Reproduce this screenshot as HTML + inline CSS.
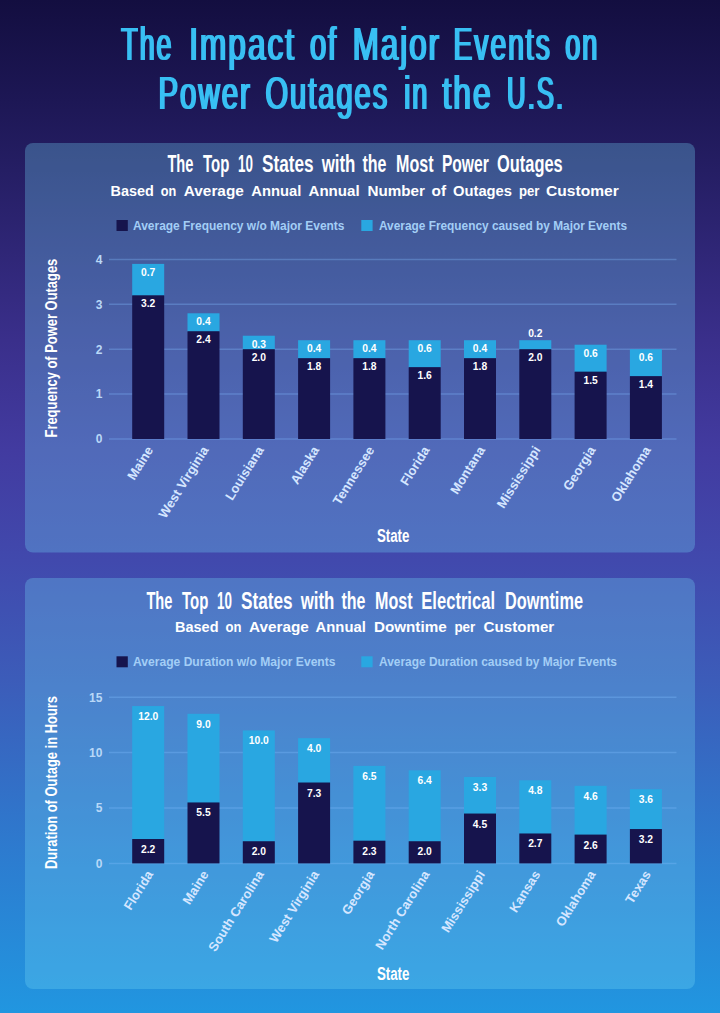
<!DOCTYPE html>
<html><head><meta charset="utf-8"><title>The Impact of Major Events on Power Outages in the U.S.</title>
<style>html,body{margin:0;padding:0;background:#1a1548}svg{display:block}text{font-family:"Liberation Sans",sans-serif}</style>
</head><body>
<svg width="720" height="1013" viewBox="0 0 720 1013">
<defs><filter id="fat" x="-5%" y="-20%" width="110%" height="140%"><feMorphology operator="dilate" radius="1 0"/></filter><linearGradient id="bg" x1="0" y1="0" x2="0" y2="1"><stop offset="0" stop-color="#130e40"/><stop offset="0.1" stop-color="#1d1755"/><stop offset="0.168" stop-color="#251e64"/><stop offset="0.336" stop-color="#3a2f8b"/><stop offset="0.444" stop-color="#423ba0"/><stop offset="0.553" stop-color="#4149ad"/><stop offset="0.671" stop-color="#3c5cb9"/><stop offset="0.839" stop-color="#2d7bcf"/><stop offset="1" stop-color="#2196e0"/></linearGradient></defs>
<rect width="720" height="1013" fill="url(#bg)"/>
<g filter="url(#fat)" fill="#38bff3" font-size="46">
<text transform="translate(121.30 59.50) scale(0.5829 1)" letter-spacing="3.43">The</text>
<text transform="translate(189.30 59.50) scale(0.6860 1)" letter-spacing="2.92">Impact</text>
<text transform="translate(309.90 59.50) scale(0.6334 1)" letter-spacing="3.16">of</text>
<text transform="translate(352.70 59.50) scale(0.6807 1)" letter-spacing="2.94">Major</text>
<text transform="translate(453.50 59.50) scale(0.6137 1)" letter-spacing="3.26">Events</text>
<text transform="translate(565.20 59.50) scale(0.5883 1)" letter-spacing="3.40">on</text>
</g>
<g filter="url(#fat)" fill="#38bff3" font-size="46">
<text transform="translate(158.50 109.30) scale(0.6389 1)" letter-spacing="3.13">Power</text>
<text transform="translate(265.40 109.30) scale(0.6320 1)" letter-spacing="3.16">Outages</text>
<text transform="translate(404.20 109.30) scale(0.5893 1)" letter-spacing="3.39">in</text>
<text transform="translate(442.50 109.30) scale(0.6896 1)" letter-spacing="2.90">the</text>
<text transform="translate(507.10 109.30) scale(0.5600 1)" letter-spacing="3.57">U.S.</text>
</g>
<rect x="25.00" y="143.00" width="670.00" height="409.50" fill="rgba(117,215,245,0.3)" rx="8" ry="8"/>
<text x="167.40" y="172.20" font-size="23.6" fill="#fff" font-weight="bold" textLength="26.00" lengthAdjust="spacingAndGlyphs" stroke="#fff" stroke-width="0" stroke-linejoin="round">The</text>
<text x="203.00" y="172.20" font-size="23.6" fill="#fff" font-weight="bold" textLength="26.30" lengthAdjust="spacingAndGlyphs" stroke="#fff" stroke-width="0" stroke-linejoin="round">Top</text>
<text x="238.00" y="172.20" font-size="23.6" fill="#fff" font-weight="bold" textLength="14.90" lengthAdjust="spacingAndGlyphs" stroke="#fff" stroke-width="0" stroke-linejoin="round">10</text>
<text x="262.00" y="172.20" font-size="23.6" fill="#fff" font-weight="bold" textLength="51.60" lengthAdjust="spacingAndGlyphs" stroke="#fff" stroke-width="0" stroke-linejoin="round">States</text>
<text x="321.70" y="172.20" font-size="23.6" fill="#fff" font-weight="bold" textLength="33.70" lengthAdjust="spacingAndGlyphs" stroke="#fff" stroke-width="0" stroke-linejoin="round">with</text>
<text x="362.50" y="172.20" font-size="23.6" fill="#fff" font-weight="bold" textLength="24.00" lengthAdjust="spacingAndGlyphs" stroke="#fff" stroke-width="0" stroke-linejoin="round">the</text>
<text x="396.00" y="172.20" font-size="23.6" fill="#fff" font-weight="bold" textLength="37.50" lengthAdjust="spacingAndGlyphs" stroke="#fff" stroke-width="0" stroke-linejoin="round">Most</text>
<text x="441.90" y="172.20" font-size="23.6" fill="#fff" font-weight="bold" textLength="46.90" lengthAdjust="spacingAndGlyphs" stroke="#fff" stroke-width="0" stroke-linejoin="round">Power</text>
<text x="497.10" y="172.20" font-size="23.6" fill="#fff" font-weight="bold" textLength="65.60" lengthAdjust="spacingAndGlyphs" stroke="#fff" stroke-width="0" stroke-linejoin="round">Outages</text>
<text x="110.50" y="196.20" font-size="14.6" fill="#fff" font-weight="bold" textLength="43.30" lengthAdjust="spacingAndGlyphs">Based</text>
<text x="160.80" y="196.20" font-size="14.6" fill="#fff" font-weight="bold" textLength="15.50" lengthAdjust="spacingAndGlyphs">on</text>
<text x="183.80" y="196.20" font-size="14.6" fill="#fff" font-weight="bold" textLength="60.00" lengthAdjust="spacingAndGlyphs">Average</text>
<text x="251.30" y="196.20" font-size="14.6" fill="#fff" font-weight="bold" textLength="50.00" lengthAdjust="spacingAndGlyphs">Annual</text>
<text x="308.50" y="196.20" font-size="14.6" fill="#fff" font-weight="bold" textLength="51.10" lengthAdjust="spacingAndGlyphs">Annual</text>
<text x="367.50" y="196.20" font-size="14.6" fill="#fff" font-weight="bold" textLength="57.50" lengthAdjust="spacingAndGlyphs">Number</text>
<text x="431.50" y="196.20" font-size="14.6" fill="#fff" font-weight="bold" textLength="14.50" lengthAdjust="spacingAndGlyphs">of</text>
<text x="453.00" y="196.20" font-size="14.6" fill="#fff" font-weight="bold" textLength="59.00" lengthAdjust="spacingAndGlyphs">Outages</text>
<text x="519.00" y="196.20" font-size="14.6" fill="#fff" font-weight="bold" textLength="20.50" lengthAdjust="spacingAndGlyphs">per</text>
<text x="546.00" y="196.20" font-size="14.6" fill="#fff" font-weight="bold" textLength="72.80" lengthAdjust="spacingAndGlyphs">Customer</text>
<rect x="116.50" y="220.00" width="11.30" height="11.00" fill="#16144d" />
<text x="133.00" y="230.00" font-size="12" fill="#a3cef6" font-weight="bold" textLength="211.50" lengthAdjust="spacingAndGlyphs">Average Frequency w/o Major Events</text>
<rect x="361.30" y="220.00" width="11.30" height="11.00" fill="#29a7e1" />
<text x="379.00" y="230.00" font-size="12" fill="#a3cef6" font-weight="bold" textLength="248.00" lengthAdjust="spacingAndGlyphs">Average Frequency caused by Major Events</text>
<text x="56.9" y="437.50" font-size="16" fill="#fff" font-weight="bold" textLength="178.80" lengthAdjust="spacingAndGlyphs" transform="rotate(-90 56.9 437.50)" stroke="#fff" stroke-width="0">Frequency of Power Outages</text>
<line x1="109" x2="676.5" y1="439.00" y2="439.00" stroke="rgba(130,190,255,0.32)" stroke-width="1.5"/>
<text x="102.40" y="443.30" font-size="12" fill="#b9d8f7" font-weight="bold" text-anchor="end">0</text>
<line x1="109" x2="676.5" y1="394.10" y2="394.10" stroke="rgba(130,190,255,0.32)" stroke-width="1.5"/>
<text x="102.40" y="398.40" font-size="12" fill="#b9d8f7" font-weight="bold" text-anchor="end">1</text>
<line x1="109" x2="676.5" y1="349.20" y2="349.20" stroke="rgba(130,190,255,0.32)" stroke-width="1.5"/>
<text x="102.40" y="353.50" font-size="12" fill="#b9d8f7" font-weight="bold" text-anchor="end">2</text>
<line x1="109" x2="676.5" y1="304.30" y2="304.30" stroke="rgba(130,190,255,0.32)" stroke-width="1.5"/>
<text x="102.40" y="308.60" font-size="12" fill="#b9d8f7" font-weight="bold" text-anchor="end">3</text>
<line x1="109" x2="676.5" y1="259.40" y2="259.40" stroke="rgba(130,190,255,0.32)" stroke-width="1.5"/>
<text x="102.40" y="263.70" font-size="12" fill="#b9d8f7" font-weight="bold" text-anchor="end">4</text>
<rect x="132.20" y="263.89" width="32.00" height="31.93" fill="#29a7e1" />
<rect x="132.20" y="295.32" width="32.00" height="143.68" fill="#16144d" />
<text x="148.20" y="307.32" font-size="10.3" fill="#fff" font-weight="bold" text-anchor="middle">3.2</text>
<text x="148.20" y="275.89" font-size="10.3" fill="#fff" font-weight="bold" text-anchor="middle">0.7</text>
<rect x="187.50" y="313.28" width="32.00" height="18.46" fill="#29a7e1" />
<rect x="187.50" y="331.24" width="32.00" height="107.76" fill="#16144d" />
<text x="203.50" y="343.24" font-size="10.3" fill="#fff" font-weight="bold" text-anchor="middle">2.4</text>
<text x="203.50" y="325.28" font-size="10.3" fill="#fff" font-weight="bold" text-anchor="middle">0.4</text>
<rect x="242.80" y="335.73" width="32.00" height="13.97" fill="#29a7e1" />
<rect x="242.80" y="349.20" width="32.00" height="89.80" fill="#16144d" />
<text x="258.80" y="361.20" font-size="10.3" fill="#fff" font-weight="bold" text-anchor="middle">2.0</text>
<text x="258.80" y="347.73" font-size="10.3" fill="#fff" font-weight="bold" text-anchor="middle">0.3</text>
<rect x="298.10" y="340.22" width="32.00" height="18.46" fill="#29a7e1" />
<rect x="298.10" y="358.18" width="32.00" height="80.82" fill="#16144d" />
<text x="314.10" y="370.18" font-size="10.3" fill="#fff" font-weight="bold" text-anchor="middle">1.8</text>
<text x="314.10" y="352.22" font-size="10.3" fill="#fff" font-weight="bold" text-anchor="middle">0.4</text>
<rect x="353.40" y="340.22" width="32.00" height="18.46" fill="#29a7e1" />
<rect x="353.40" y="358.18" width="32.00" height="80.82" fill="#16144d" />
<text x="369.40" y="370.18" font-size="10.3" fill="#fff" font-weight="bold" text-anchor="middle">1.8</text>
<text x="369.40" y="352.22" font-size="10.3" fill="#fff" font-weight="bold" text-anchor="middle">0.4</text>
<rect x="408.70" y="340.22" width="32.00" height="27.44" fill="#29a7e1" />
<rect x="408.70" y="367.16" width="32.00" height="71.84" fill="#16144d" />
<text x="424.70" y="379.16" font-size="10.3" fill="#fff" font-weight="bold" text-anchor="middle">1.6</text>
<text x="424.70" y="352.22" font-size="10.3" fill="#fff" font-weight="bold" text-anchor="middle">0.6</text>
<rect x="464.00" y="340.22" width="32.00" height="18.46" fill="#29a7e1" />
<rect x="464.00" y="358.18" width="32.00" height="80.82" fill="#16144d" />
<text x="480.00" y="370.18" font-size="10.3" fill="#fff" font-weight="bold" text-anchor="middle">1.8</text>
<text x="480.00" y="352.22" font-size="10.3" fill="#fff" font-weight="bold" text-anchor="middle">0.4</text>
<rect x="519.30" y="340.22" width="32.00" height="9.48" fill="#29a7e1" />
<rect x="519.30" y="349.20" width="32.00" height="89.80" fill="#16144d" />
<text x="535.30" y="361.20" font-size="10.3" fill="#fff" font-weight="bold" text-anchor="middle">2.0</text>
<text x="535.30" y="337.02" font-size="10.3" fill="#fff" font-weight="bold" text-anchor="middle">0.2</text>
<rect x="574.60" y="344.71" width="32.00" height="27.44" fill="#29a7e1" />
<rect x="574.60" y="371.65" width="32.00" height="67.35" fill="#16144d" />
<text x="590.60" y="383.65" font-size="10.3" fill="#fff" font-weight="bold" text-anchor="middle">1.5</text>
<text x="590.60" y="356.71" font-size="10.3" fill="#fff" font-weight="bold" text-anchor="middle">0.6</text>
<rect x="629.90" y="349.20" width="32.00" height="27.44" fill="#29a7e1" />
<rect x="629.90" y="376.14" width="32.00" height="62.86" fill="#16144d" />
<text x="645.90" y="388.14" font-size="10.3" fill="#fff" font-weight="bold" text-anchor="middle">1.4</text>
<text x="645.90" y="361.20" font-size="10.3" fill="#fff" font-weight="bold" text-anchor="middle">0.6</text>
<text x="153.70" y="449.80" font-size="13" fill="#d5e6ff" font-weight="bold" text-anchor="end" transform="rotate(-58 153.70 449.80)">Maine</text>
<text x="209.00" y="449.80" font-size="13" fill="#d5e6ff" font-weight="bold" text-anchor="end" transform="rotate(-58 209.00 449.80)">West Virginia</text>
<text x="264.30" y="449.80" font-size="13" fill="#d5e6ff" font-weight="bold" text-anchor="end" transform="rotate(-58 264.30 449.80)">Louisiana</text>
<text x="319.60" y="449.80" font-size="13" fill="#d5e6ff" font-weight="bold" text-anchor="end" transform="rotate(-58 319.60 449.80)">Alaska</text>
<text x="374.90" y="449.80" font-size="13" fill="#d5e6ff" font-weight="bold" text-anchor="end" transform="rotate(-58 374.90 449.80)">Tennessee</text>
<text x="430.20" y="449.80" font-size="13" fill="#d5e6ff" font-weight="bold" text-anchor="end" transform="rotate(-58 430.20 449.80)">Florida</text>
<text x="485.50" y="449.80" font-size="13" fill="#d5e6ff" font-weight="bold" text-anchor="end" transform="rotate(-58 485.50 449.80)">Montana</text>
<text x="540.80" y="449.80" font-size="13" fill="#d5e6ff" font-weight="bold" text-anchor="end" transform="rotate(-58 540.80 449.80)">Mississippi</text>
<text x="596.10" y="449.80" font-size="13" fill="#d5e6ff" font-weight="bold" text-anchor="end" transform="rotate(-58 596.10 449.80)">Georgia</text>
<text x="651.40" y="449.80" font-size="13" fill="#d5e6ff" font-weight="bold" text-anchor="end" transform="rotate(-58 651.40 449.80)">Oklahoma</text>
<text x="376.90" y="541.80" font-size="17.5" fill="#fff" font-weight="bold" textLength="32.50" lengthAdjust="spacingAndGlyphs" stroke="#fff" stroke-width="0" stroke-linejoin="round">State</text>
<rect x="25.00" y="578.00" width="670.00" height="411.00" fill="rgba(117,215,245,0.3)" rx="8" ry="8"/>
<text x="146.40" y="608.50" font-size="23.6" fill="#fff" font-weight="bold" textLength="26.00" lengthAdjust="spacingAndGlyphs" stroke="#fff" stroke-width="0" stroke-linejoin="round">The</text>
<text x="182.00" y="608.50" font-size="23.6" fill="#fff" font-weight="bold" textLength="26.30" lengthAdjust="spacingAndGlyphs" stroke="#fff" stroke-width="0" stroke-linejoin="round">Top</text>
<text x="217.00" y="608.50" font-size="23.6" fill="#fff" font-weight="bold" textLength="14.90" lengthAdjust="spacingAndGlyphs" stroke="#fff" stroke-width="0" stroke-linejoin="round">10</text>
<text x="241.00" y="608.50" font-size="23.6" fill="#fff" font-weight="bold" textLength="51.60" lengthAdjust="spacingAndGlyphs" stroke="#fff" stroke-width="0" stroke-linejoin="round">States</text>
<text x="300.70" y="608.50" font-size="23.6" fill="#fff" font-weight="bold" textLength="33.70" lengthAdjust="spacingAndGlyphs" stroke="#fff" stroke-width="0" stroke-linejoin="round">with</text>
<text x="341.50" y="608.50" font-size="23.6" fill="#fff" font-weight="bold" textLength="24.00" lengthAdjust="spacingAndGlyphs" stroke="#fff" stroke-width="0" stroke-linejoin="round">the</text>
<text x="375.00" y="608.50" font-size="23.6" fill="#fff" font-weight="bold" textLength="37.50" lengthAdjust="spacingAndGlyphs" stroke="#fff" stroke-width="0" stroke-linejoin="round">Most</text>
<text x="421.30" y="608.50" font-size="23.6" fill="#fff" font-weight="bold" textLength="73.70" lengthAdjust="spacingAndGlyphs" stroke="#fff" stroke-width="0" stroke-linejoin="round">Electrical</text>
<text x="505.00" y="608.50" font-size="23.6" fill="#fff" font-weight="bold" textLength="78.00" lengthAdjust="spacingAndGlyphs" stroke="#fff" stroke-width="0" stroke-linejoin="round">Downtime</text>
<text x="175.00" y="632.00" font-size="14.6" fill="#fff" font-weight="bold" textLength="43.50" lengthAdjust="spacingAndGlyphs">Based</text>
<text x="225.50" y="632.00" font-size="14.6" fill="#fff" font-weight="bold" textLength="16.00" lengthAdjust="spacingAndGlyphs">on</text>
<text x="249.00" y="632.00" font-size="14.6" fill="#fff" font-weight="bold" textLength="59.80" lengthAdjust="spacingAndGlyphs">Average</text>
<text x="315.60" y="632.00" font-size="14.6" fill="#fff" font-weight="bold" textLength="50.20" lengthAdjust="spacingAndGlyphs">Annual</text>
<text x="373.90" y="632.00" font-size="14.6" fill="#fff" font-weight="bold" textLength="72.80" lengthAdjust="spacingAndGlyphs">Downtime</text>
<text x="454.40" y="632.00" font-size="14.6" fill="#fff" font-weight="bold" textLength="20.90" lengthAdjust="spacingAndGlyphs">per</text>
<text x="483.60" y="632.00" font-size="14.6" fill="#fff" font-weight="bold" textLength="70.60" lengthAdjust="spacingAndGlyphs">Customer</text>
<rect x="116.50" y="656.30" width="11.30" height="11.00" fill="#16144d" />
<text x="133.00" y="666.20" font-size="12" fill="#a3cef6" font-weight="bold" textLength="202.50" lengthAdjust="spacingAndGlyphs">Average Duration w/o Major Events</text>
<rect x="361.30" y="656.30" width="11.30" height="11.00" fill="#29a7e1" />
<text x="379.00" y="666.20" font-size="12" fill="#a3cef6" font-weight="bold" textLength="238.00" lengthAdjust="spacingAndGlyphs">Average Duration caused by Major Events</text>
<text x="56.9" y="869.00" font-size="16" fill="#fff" font-weight="bold" textLength="173.00" lengthAdjust="spacingAndGlyphs" transform="rotate(-90 56.9 869.00)" stroke="#fff" stroke-width="0">Duration of Outage in Hours</text>
<line x1="109" x2="676.5" y1="863.40" y2="863.40" stroke="rgba(130,190,255,0.32)" stroke-width="1.5"/>
<text x="102.40" y="867.70" font-size="12" fill="#b9d8f7" font-weight="bold" text-anchor="end">0</text>
<line x1="109" x2="676.5" y1="808.00" y2="808.00" stroke="rgba(130,190,255,0.32)" stroke-width="1.5"/>
<text x="102.40" y="812.30" font-size="12" fill="#b9d8f7" font-weight="bold" text-anchor="end">5</text>
<line x1="109" x2="676.5" y1="752.60" y2="752.60" stroke="rgba(130,190,255,0.32)" stroke-width="1.5"/>
<text x="102.40" y="756.90" font-size="12" fill="#b9d8f7" font-weight="bold" text-anchor="end">10</text>
<line x1="109" x2="676.5" y1="697.20" y2="697.20" stroke="rgba(130,190,255,0.32)" stroke-width="1.5"/>
<text x="102.40" y="701.50" font-size="12" fill="#b9d8f7" font-weight="bold" text-anchor="end">15</text>
<rect x="132.20" y="706.06" width="32.00" height="133.46" fill="#29a7e1" />
<rect x="132.20" y="839.02" width="32.00" height="24.38" fill="#16144d" />
<text x="148.20" y="853.02" font-size="10.3" fill="#fff" font-weight="bold" text-anchor="middle">2.2</text>
<text x="148.20" y="720.06" font-size="10.3" fill="#fff" font-weight="bold" text-anchor="middle">12.0</text>
<rect x="187.50" y="713.82" width="32.00" height="89.14" fill="#29a7e1" />
<rect x="187.50" y="802.46" width="32.00" height="60.94" fill="#16144d" />
<text x="203.50" y="816.46" font-size="10.3" fill="#fff" font-weight="bold" text-anchor="middle">5.5</text>
<text x="203.50" y="727.82" font-size="10.3" fill="#fff" font-weight="bold" text-anchor="middle">9.0</text>
<rect x="242.80" y="730.44" width="32.00" height="111.30" fill="#29a7e1" />
<rect x="242.80" y="841.24" width="32.00" height="22.16" fill="#16144d" />
<text x="258.80" y="855.24" font-size="10.3" fill="#fff" font-weight="bold" text-anchor="middle">2.0</text>
<text x="258.80" y="744.44" font-size="10.3" fill="#fff" font-weight="bold" text-anchor="middle">10.0</text>
<rect x="298.10" y="738.20" width="32.00" height="44.82" fill="#29a7e1" />
<rect x="298.10" y="782.52" width="32.00" height="80.88" fill="#16144d" />
<text x="314.10" y="796.52" font-size="10.3" fill="#fff" font-weight="bold" text-anchor="middle">7.3</text>
<text x="314.10" y="752.20" font-size="10.3" fill="#fff" font-weight="bold" text-anchor="middle">4.0</text>
<rect x="353.40" y="765.90" width="32.00" height="75.29" fill="#29a7e1" />
<rect x="353.40" y="840.69" width="32.00" height="22.71" fill="#16144d" />
<text x="369.40" y="854.69" font-size="10.3" fill="#fff" font-weight="bold" text-anchor="middle">2.3</text>
<text x="369.40" y="779.90" font-size="10.3" fill="#fff" font-weight="bold" text-anchor="middle">6.5</text>
<rect x="408.70" y="770.33" width="32.00" height="71.41" fill="#29a7e1" />
<rect x="408.70" y="841.24" width="32.00" height="22.16" fill="#16144d" />
<text x="424.70" y="855.24" font-size="10.3" fill="#fff" font-weight="bold" text-anchor="middle">2.0</text>
<text x="424.70" y="784.33" font-size="10.3" fill="#fff" font-weight="bold" text-anchor="middle">6.4</text>
<rect x="464.00" y="776.98" width="32.00" height="37.06" fill="#29a7e1" />
<rect x="464.00" y="813.54" width="32.00" height="49.86" fill="#16144d" />
<text x="480.00" y="827.54" font-size="10.3" fill="#fff" font-weight="bold" text-anchor="middle">4.5</text>
<text x="480.00" y="790.98" font-size="10.3" fill="#fff" font-weight="bold" text-anchor="middle">3.3</text>
<rect x="519.30" y="780.30" width="32.00" height="53.68" fill="#29a7e1" />
<rect x="519.30" y="833.48" width="32.00" height="29.92" fill="#16144d" />
<text x="535.30" y="847.48" font-size="10.3" fill="#fff" font-weight="bold" text-anchor="middle">2.7</text>
<text x="535.30" y="794.30" font-size="10.3" fill="#fff" font-weight="bold" text-anchor="middle">4.8</text>
<rect x="574.60" y="785.84" width="32.00" height="49.25" fill="#29a7e1" />
<rect x="574.60" y="834.59" width="32.00" height="28.81" fill="#16144d" />
<text x="590.60" y="848.59" font-size="10.3" fill="#fff" font-weight="bold" text-anchor="middle">2.6</text>
<text x="590.60" y="799.84" font-size="10.3" fill="#fff" font-weight="bold" text-anchor="middle">4.6</text>
<rect x="629.90" y="789.16" width="32.00" height="40.39" fill="#29a7e1" />
<rect x="629.90" y="829.05" width="32.00" height="34.35" fill="#16144d" />
<text x="645.90" y="843.05" font-size="10.3" fill="#fff" font-weight="bold" text-anchor="middle">3.2</text>
<text x="645.90" y="803.16" font-size="10.3" fill="#fff" font-weight="bold" text-anchor="middle">3.6</text>
<text x="153.70" y="874.20" font-size="13" fill="#d5e6ff" font-weight="bold" text-anchor="end" transform="rotate(-58 153.70 874.20)">Florida</text>
<text x="209.00" y="874.20" font-size="13" fill="#d5e6ff" font-weight="bold" text-anchor="end" transform="rotate(-58 209.00 874.20)">Maine</text>
<text x="264.30" y="874.20" font-size="13" fill="#d5e6ff" font-weight="bold" text-anchor="end" transform="rotate(-58 264.30 874.20)">South Carolina</text>
<text x="319.60" y="874.20" font-size="13" fill="#d5e6ff" font-weight="bold" text-anchor="end" transform="rotate(-58 319.60 874.20)">West Virginia</text>
<text x="374.90" y="874.20" font-size="13" fill="#d5e6ff" font-weight="bold" text-anchor="end" transform="rotate(-58 374.90 874.20)">Georgia</text>
<text x="430.20" y="874.20" font-size="13" fill="#d5e6ff" font-weight="bold" text-anchor="end" transform="rotate(-58 430.20 874.20)">North Carolina</text>
<text x="485.50" y="874.20" font-size="13" fill="#d5e6ff" font-weight="bold" text-anchor="end" transform="rotate(-58 485.50 874.20)">Mississippi</text>
<text x="540.80" y="874.20" font-size="13" fill="#d5e6ff" font-weight="bold" text-anchor="end" transform="rotate(-58 540.80 874.20)">Kansas</text>
<text x="596.10" y="874.20" font-size="13" fill="#d5e6ff" font-weight="bold" text-anchor="end" transform="rotate(-58 596.10 874.20)">Oklahoma</text>
<text x="651.40" y="874.20" font-size="13" fill="#d5e6ff" font-weight="bold" text-anchor="end" transform="rotate(-58 651.40 874.20)">Texas</text>
<text x="376.90" y="980.00" font-size="17.5" fill="#fff" font-weight="bold" textLength="32.50" lengthAdjust="spacingAndGlyphs" stroke="#fff" stroke-width="0" stroke-linejoin="round">State</text>
</svg>
</body></html>
